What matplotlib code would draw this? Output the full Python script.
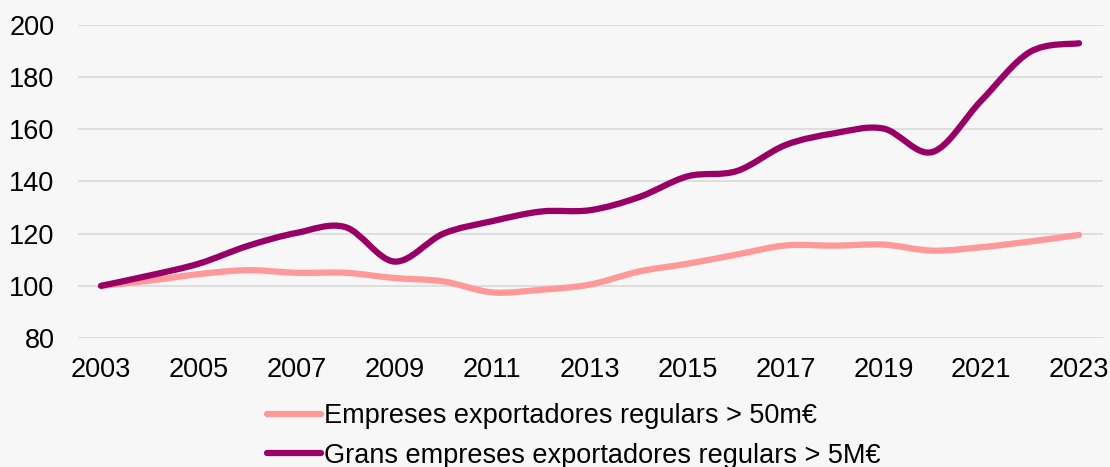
import numpy as np
import matplotlib
matplotlib.use("Agg")
import matplotlib.pyplot as plt
from matplotlib.path import Path
from matplotlib.patches import PathPatch
from matplotlib.lines import Line2D

plt.rcParams["font.family"] = ["Liberation Sans", "DejaVu Sans"]

# ---------------------------------------------------------------------
# Data (index, 2003 = 100)
# ---------------------------------------------------------------------
years = list(range(2003, 2024))

regulars_50k = [100, 102, 104.5, 106, 105, 105, 103, 101.7, 97.5, 98.5, 100.5,
                105.5, 108.5, 112, 115.5, 115.4, 115.8, 113.5, 114.8, 117, 119.5]

grans_5m = [100, 104, 108.5, 115.3, 120.3, 122.5, 109.3, 120, 124.8, 128.5, 129,
            134, 142, 144, 154, 158.5, 160.3, 151.3, 171, 189.7, 193]

labels = ["Empreses exportadores regulars > 50m€",
          "Grans empreses exportadores regulars > 5M€"]
colors = ["#ff9999", "#990066"]

x_ticks = list(range(2003, 2024, 2))
y_ticks = list(range(80, 201, 20))

BG = "#f7f7f7"
FS = 19.5


def smooth_path(xs, ys, tension=1 / 6):
    """Excel-like smoothed line: Catmull-Rom segments as cubic Beziers."""
    xs = np.asarray(xs, float)
    ys = np.asarray(ys, float)
    pts = np.column_stack([xs, ys])
    verts = [pts[0]]
    codes = [Path.MOVETO]
    n = len(pts)
    for i in range(n - 1):
        p0 = pts[max(i - 1, 0)]
        p1 = pts[i]
        p2 = pts[i + 1]
        p3 = pts[min(i + 2, n - 1)]
        c1 = p1 + (p2 - p0) * tension
        c2 = p2 - (p3 - p1) * tension
        verts += [c1, c2, p2]
        codes += [Path.CURVE4] * 3
    return Path(verts, codes)


fig = plt.figure(figsize=(11.1, 4.67), dpi=100, facecolor=BG)
ax = fig.add_axes([0.0703, 0.2762, 0.9234, 0.6703], facecolor=BG)

for series, color in zip([regulars_50k, grans_5m], colors):
    patch = PathPatch(smooth_path(years, series), facecolor="none",
                      edgecolor=color, lw=4.5, capstyle="round",
                      joinstyle="round", zorder=3)
    ax.add_patch(patch)

ax.set_xlim(2002.53, 2023.49)
ax.set_ylim(80, 200)
ax.set_xticks(x_ticks)
ax.set_yticks(y_ticks)
ax.tick_params(axis="both", length=0, labelsize=FS, colors="black")
ax.tick_params(axis="y", pad=17)
ax.tick_params(axis="x", pad=14)

ax.grid(axis="y", color="#d9d9d9", lw=1.2)
ax.set_axisbelow(True)
for s in ax.spines.values():
    s.set_visible(False)

handles = [Line2D([], [], color=c, lw=4.5, solid_capstyle="round") for c in colors]
fig.legend(handles, labels, loc="upper left", bbox_to_anchor=(0.2405, 0.137),
           frameon=False, fontsize=FS, handlelength=2.0, handletextpad=0.12,
           labelspacing=0.51, borderpad=0, borderaxespad=0)

fig.savefig("out.png", dpi=100, facecolor=BG)
